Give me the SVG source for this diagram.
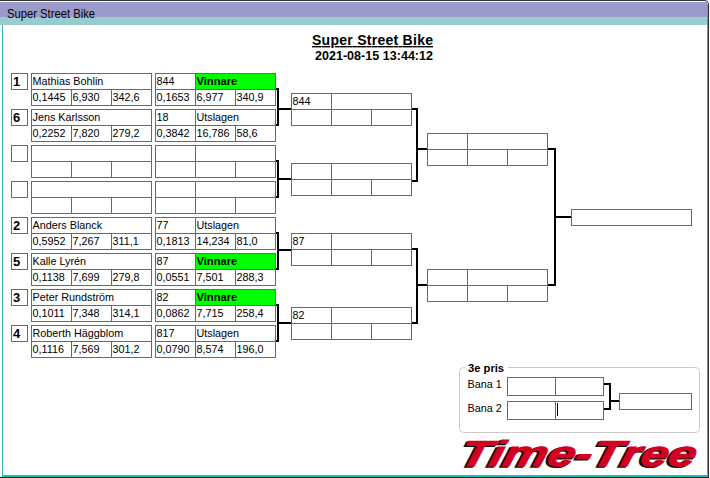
<svg xmlns="http://www.w3.org/2000/svg" xmlns:xlink="http://www.w3.org/1999/xlink" width="710" height="478" viewBox="0 0 710 478">
<style>
text{font-family:"Liberation Sans",Arial,sans-serif;font-size:10.800px;fill:#000}
.b{fill:#fff;stroke:#696969;stroke-width:1;shape-rendering:crispEdges}
.g{fill:#0f0}
.s{font-weight:700;font-size:13px}
.w{font-weight:700;font-size:11.200px}
.c{fill:none;stroke:#000;stroke-width:2;shape-rendering:crispEdges}
</style>
<defs>
<g id="name-grid"><rect class="b" x="31.500" y=".5" width="120" height="16"/><rect class="b" x="31.500" y="16.500" width="40" height="16"/><rect class="b" x="71.500" y="16.500" width="40" height="16"/><rect class="b" x="111.500" y="16.500" width="40" height="16"/></g>
<g id="result-grid"><rect class="b" x=".5" y=".5" width="40" height="16"/><rect class="b" x="40.500" y=".5" width="80" height="16"/><rect class="b" x=".5" y="16.500" width="40" height="16"/><rect class="b" x="40.500" y="16.500" width="40" height="16"/><rect class="b" x="80.500" y="16.500" width="40" height="16"/></g>
<rect id="seed" class="b" x="11.500" y=".5" width="16" height="16"/>
</defs>
<rect width="710" height="478" fill="#fff"/>
<g id="window">
<path d="M0 .5H705Q708 .5 708.500 4V477" fill="none" stroke="#333"/>
<rect x="0" y="2" width="707" height="15" fill="#9b9bcb"/>
<rect x="0" y="17" width="707" height="8" fill="#99cccc"/>
<rect x="2" y="25" width="1" height="450" fill="#2fb5b5"/>
<rect x="707" y="4" width="1" height="471" fill="#00c8c8"/>
<rect x="2" y="475" width="706" height="2" fill="#00c8c8"/>
<rect x="0" y="477" width="709" height="1" fill="#111"/>
<text x="7" y="18" style="font-size:12px" textLength="88" lengthAdjust="spacingAndGlyphs">Super Street Bike</text>
</g>
<g id="heading">
<text x="312" y="45" text-decoration="underline" style="font-weight:700;font-size:14px" textLength="121">Super Street Bike</text>
<text x="315" y="60" style="font-weight:700;font-size:12.500px" textLength="118">2021-08-15 13:44:12</text>
</g>
<g id="connectors">
<path class="c" d="M276 89H278V125H276M278 109H291"/>
<path class="c" d="M276 161H278V197H276M278 179H291"/>
<path class="c" d="M276 233H278V269H276M278 250H291"/>
<path class="c" d="M276 305H278V341H276M278 323H291"/>
<path class="c" d="M412 109H417V181H412M417 149H427"/>
<path class="c" d="M412 249H417V323H412M417 285H427"/>
<path class="c" d="M548 149H555V285H548M555 217H571"/>
<path class="c" d="M604 384H610V409H604M610 401H619"/>
</g>
<g id="player1" transform="translate(0 73)"><use href="#seed"/><use href="#name-grid"/><use href="#result-grid" x="155"/><rect class="g" x="196" y="1" width="79" height="15"/>
<text class="s" x="13" y="13">1</text><text x="32.500" y="12">Mathias Bohlin</text><text x="32.500" y="28">0,1445</text><text x="72.500" y="28">6,930</text><text x="112.500" y="28">342,6</text><text x="156.500" y="12">844</text><text class="w" x="196.500" y="12">Vinnare</text><text x="156.500" y="28">0,1653</text><text x="196.500" y="28">6,977</text><text x="236.500" y="28">340,9</text></g>
<g id="player6" transform="translate(0 109)"><use href="#seed"/><use href="#name-grid"/><use href="#result-grid" x="155"/>
<text class="s" x="13" y="13">6</text><text x="32.500" y="12">Jens Karlsson</text><text x="32.500" y="28">0,2252</text><text x="72.500" y="28">7,820</text><text x="112.500" y="28">279,2</text><text x="156.500" y="12">18</text><text x="196.500" y="12">Utslagen</text><text x="156.500" y="28">0,3842</text><text x="196.500" y="28">16,786</text><text x="236.500" y="28">58,6</text></g>
<g id="empty1" transform="translate(0 145)"><use href="#seed"/><use href="#name-grid"/><use href="#result-grid" x="155"/></g>
<g id="empty2" transform="translate(0 181)"><use href="#seed"/><use href="#name-grid"/><use href="#result-grid" x="155"/></g>
<g id="player2" transform="translate(0 217)"><use href="#seed"/><use href="#name-grid"/><use href="#result-grid" x="155"/>
<text class="s" x="13" y="13">2</text><text x="32.500" y="12">Anders Blanck</text><text x="32.500" y="28">0,5952</text><text x="72.500" y="28">7,267</text><text x="112.500" y="28">311,1</text><text x="156.500" y="12">77</text><text x="196.500" y="12">Utslagen</text><text x="156.500" y="28">0,1813</text><text x="196.500" y="28">14,234</text><text x="236.500" y="28">81,0</text></g>
<g id="player5" transform="translate(0 253)"><use href="#seed"/><use href="#name-grid"/><use href="#result-grid" x="155"/><rect class="g" x="196" y="1" width="79" height="15"/>
<text class="s" x="13" y="13">5</text><text x="32.500" y="12">Kalle Lyrén</text><text x="32.500" y="28">0,1138</text><text x="72.500" y="28">7,699</text><text x="112.500" y="28">279,8</text><text x="156.500" y="12">87</text><text class="w" x="196.500" y="12">Vinnare</text><text x="156.500" y="28">0,0551</text><text x="196.500" y="28">7,501</text><text x="236.500" y="28">288,3</text></g>
<g id="player3" transform="translate(0 289)"><use href="#seed"/><use href="#name-grid"/><use href="#result-grid" x="155"/><rect class="g" x="196" y="1" width="79" height="15"/>
<text class="s" x="13" y="13">3</text><text x="32.500" y="12">Peter Rundström</text><text x="32.500" y="28">0,1011</text><text x="72.500" y="28">7,348</text><text x="112.500" y="28">314,1</text><text x="156.500" y="12">82</text><text class="w" x="196.500" y="12">Vinnare</text><text x="156.500" y="28">0,0862</text><text x="196.500" y="28">7,715</text><text x="236.500" y="28">258,4</text></g>
<g id="player4" transform="translate(0 325)"><use href="#seed"/><use href="#name-grid"/><use href="#result-grid" x="155"/>
<text class="s" x="13" y="13">4</text><text x="32.500" y="12">Roberth Häggblom</text><text x="32.500" y="28">0,1116</text><text x="72.500" y="28">7,569</text><text x="112.500" y="28">301,2</text><text x="156.500" y="12">817</text><text x="196.500" y="12">Utslagen</text><text x="156.500" y="28">0,0790</text><text x="196.500" y="28">8,574</text><text x="236.500" y="28">196,0</text></g>
<g id="round2-1" transform="translate(291 93)"><use href="#result-grid"/><text x="1.500" y="12">844</text></g>
<g id="round2-2" transform="translate(291 163)"><use href="#result-grid"/></g>
<g id="round2-3" transform="translate(291 233)"><use href="#result-grid"/><text x="1.500" y="12">87</text></g>
<g id="round2-4" transform="translate(291 307)"><use href="#result-grid"/><text x="1.500" y="12">82</text></g>
<g id="semi-1" transform="translate(427 133)"><use href="#result-grid"/></g>
<g id="semi-2" transform="translate(427 269)"><use href="#result-grid"/></g>
<g id="final"><rect class="b" x="571.500" y="209.500" width="120" height="16"/></g>
<g id="third-prize">
<rect x="459.500" y="367.500" width="240" height="65" rx="4" fill="none" stroke="#ccc"/>
<rect x="465" y="362" width="43" height="10" fill="#fff"/>
<text class="w" x="468" y="372">3e pris</text>
<text x="467.500" y="388">Bana 1</text>
<text x="467.500" y="412">Bana 2</text>
<rect class="b" x="507.500" y="377.500" width="48" height="18"/><rect class="b" x="555.500" y="377.500" width="48" height="18"/>
<rect class="b" x="507.500" y="401.500" width="48" height="18"/><rect class="b" x="555.500" y="401.500" width="48" height="18"/>
<rect x="557" y="403" width="1" height="13" fill="#000"/>
<rect class="b" x="619.500" y="393.500" width="72" height="16"/>
</g>
<g id="logo" style="font-weight:700;font-style:italic">
<text transform="translate(456 467) skewX(-14)" x="0" y="0" textLength="236" lengthAdjust="spacingAndGlyphs" style="font-size:36px;font-weight:700;fill:#111;stroke:#111;stroke-width:1.500">Time-Tree</text>
<text transform="translate(458 466) skewX(-14)" x="0" y="0" textLength="236" lengthAdjust="spacingAndGlyphs" style="font-size:36px;font-weight:700;fill:#d4001f;stroke:#d4001f;stroke-width:1">Time-Tree</text>
</g>
</svg>
